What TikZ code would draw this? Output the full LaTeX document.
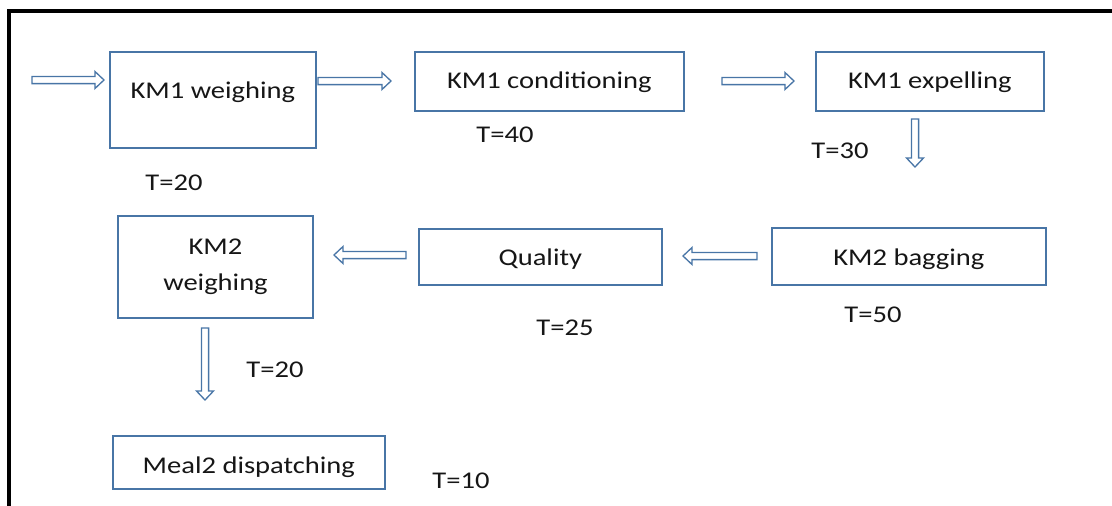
\documentclass[tikz,border=0pt]{standalone}
\usepackage{fontspec}
\setmainfont{Carlito}[FakeStretch=1.19]
\usetikzlibrary{calc}
\definecolor{boxblue}{RGB}{72,117,166}
\definecolor{inkgray}{RGB}{22,22,22}
% block-arrow dimensions: shaft half width, head half width, head length
\newcommand\baShaft{3.6pt}
\newcommand\baHead{8.5pt}
\newcommand\baLen{9pt}
\begin{document}
\begin{tikzpicture}[x=1pt,y=-1pt,
  every node/.style={font=\fontsize{24}{36}\selectfont, text=inkgray},
  stage/.style={draw=boxblue, line width=1.7pt, fill=white, inner sep=0pt, anchor=base west},
  tlabel/.style={anchor=base, inner sep=0pt},
  blockarrow/.style={draw=boxblue, line width=1.3pt, fill=white, line join=miter,
    to path={
      ($(\tikztotarget)!\baLen!(\tikztostart)$) coordinate (bahead)
      ($(\tikztostart)!\baShaft!90:(\tikztotarget)$)
      -- ($(bahead)!\baShaft!90:(\tikztotarget)$)
      -- ($(bahead)!\baHead!90:(\tikztotarget)$)
      -- (\tikztotarget)
      -- ($(bahead)!\baHead!-90:(\tikztotarget)$)
      -- ($(bahead)!\baShaft!-90:(\tikztotarget)$)
      -- ($(\tikztostart)!\baShaft!-90:(\tikztotarget)$)
      -- cycle}}]
\useasboundingbox (0,0) rectangle (1112,506);

% frame
\draw[line width=3.2pt, line join=miter] (1112,11) -- (9,11) -- (9,506);

% process stages
\node[stage, minimum width=206pt, text height=46pt, text depth=50pt] (w1) at (109,98) {KM1 weighing};
\node[stage, minimum width=269pt, text height=36pt, text depth=23pt] (c1) at (414,88) {KM1 conditioning};
\node[stage, minimum width=228pt, text height=36pt, text depth=23pt] (e1) at (815,88) {KM1 expelling};
\node[stage, minimum width=274pt, text height=37pt, text depth=20pt] (b2) at (771,265) {KM2 bagging};
\node[stage, minimum width=243pt, text height=36pt, text depth=20pt] (q) at (418,265) {Quality};
\node[stage, anchor=center, align=center, minimum width=195pt, minimum height=102pt] (w2) at (215.5,267) {KM2\\weighing};
\node[stage, minimum width=272pt, text height=37pt, text depth=16pt] (m2) at (112,473) {Meal2 dispatching};

% times
\node[tlabel] (t1) at (174,190) {T=20};
\node[tlabel] (t2) at (505,142) {T=40};
\node[tlabel] (t3) at (840,158) {T=30};
\node[tlabel] (t4) at (873,322) {T=50};
\node[tlabel] (t5) at (565,335) {T=25};
\node[tlabel] (t6) at (275,377) {T=20};
\node[tlabel] (t7) at (461,488) {T=10};

% arrow end points
\coordinate (in0) at (32,80);   \coordinate (in1) at (104,80);
\coordinate (wc0) at (318,81);  \coordinate (wc1) at (391,81);
\coordinate (ce0) at (722,81);  \coordinate (ce1) at (794,81);
\coordinate (eb0) at (915,119); \coordinate (eb1) at (915,167);
\coordinate (bq0) at (757,256); \coordinate (bq1) at (683,256);
\coordinate (qw0) at (406,255); \coordinate (qw1) at (334,255);
\coordinate (wm0) at (205,328); \coordinate (wm1) at (205,400);

% flow
\draw[blockarrow] (in0) to (in1);
\draw[blockarrow] (wc0) to (wc1);
\draw[blockarrow] (ce0) to (ce1);
\draw[blockarrow] (eb0) to (eb1);
\draw[blockarrow] (bq0) to (bq1);
\draw[blockarrow] (qw0) to (qw1);
\draw[blockarrow] (wm0) to (wm1);
\end{tikzpicture}
\end{document}
